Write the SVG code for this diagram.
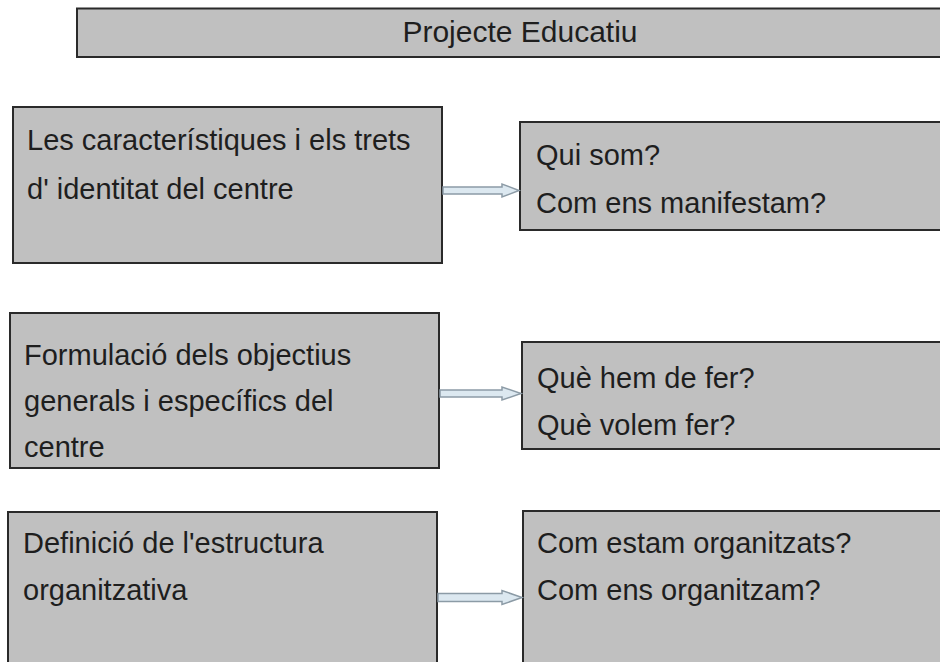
<svg xmlns="http://www.w3.org/2000/svg" width="940" height="662" viewBox="0 0 940 662">
<style>
.box{fill:#c0c0c0;stroke:#2a2a2a;stroke-width:2}
.t{font-family:"Liberation Sans",Arial,sans-serif;font-size:29px;fill:#1e1e1e}
.arr{fill:#dce8f0;stroke:#8c9ba6;stroke-width:1.5;stroke-linejoin:miter}
</style>
<rect width="940" height="662" fill="#ffffff"/>
<g id="title">
<rect class="box" x="77" y="8.5" width="880" height="48.5"/>
<text class="t" x="520" y="42" text-anchor="middle" style="font-size:30px">Projecte Educatiu</text>
</g>
<g id="n1">
<rect class="box" x="13" y="107" width="429" height="156"/>
<text class="t" x="27" y="150">Les característiques i els trets</text>
<text class="t" x="27" y="199">d' identitat del centre</text>
</g>
<g id="q1">
<rect class="box" x="520" y="122" width="440" height="108"/>
<text class="t" x="536" y="165">Qui som?</text>
<text class="t" x="536" y="213">Com ens manifestam?</text>
</g>
<g id="n2">
<rect class="box" x="10" y="313" width="429" height="155"/>
<text class="t" x="24" y="365">Formulació dels objectius</text>
<text class="t" x="24" y="411">generals i específics del</text>
<text class="t" x="24" y="457">centre</text>
</g>
<g id="q2">
<rect class="box" x="522" y="342" width="440" height="107"/>
<text class="t" x="537" y="388">Què hem de fer?</text>
<text class="t" x="537" y="435">Què volem fer?</text>
</g>
<g id="n3">
<rect class="box" x="8" y="512" width="429" height="170"/>
<text class="t" x="23" y="553">Definició de l'estructura</text>
<text class="t" x="23" y="600">organitzativa</text>
</g>
<g id="q3">
<rect class="box" x="523" y="511" width="440" height="170"/>
<text class="t" x="537" y="553">Com estam organitzats?</text>
<text class="t" x="537" y="600">Com ens organitzam?</text>
</g>
<g id="connectors">
<polygon class="arr" points="443,187 502,187 502,184 519,190.5 502,197 502,194 443,194"/>
<polygon class="arr" points="440,390 502,390 502,387 521,393.5 502,400 502,397 440,397"/>
<polygon class="arr" points="438,593.5 502,593.5 502,590.5 522,597.5 502,604.5 502,601.5 438,601.5"/>
</g>
</svg>
